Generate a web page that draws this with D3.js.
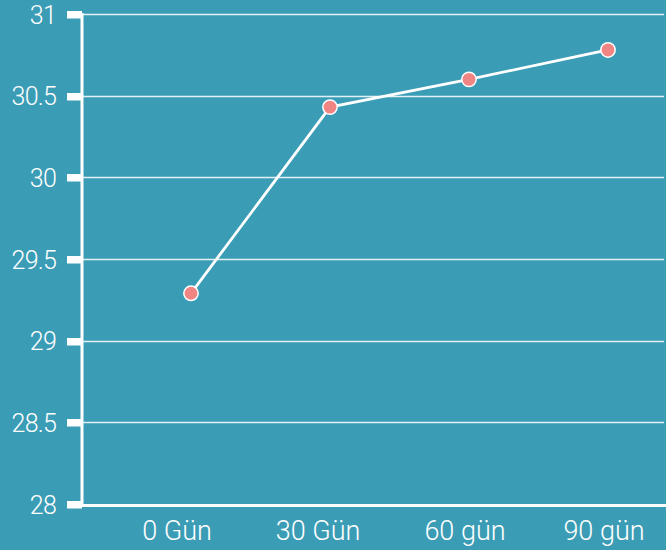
<!DOCTYPE html>
<html><head><meta charset="utf-8">
<script src="https://cdn.jsdelivr.net/npm/d3@7/dist/d3.min.js"></script>
<style>html,body{margin:0;padding:0;background:#3b9cb6;}svg{display:block;}</style>
</head><body>
<script>
const categories = ["0 Gün", "30 Gün", "60 gün", "90 gün"];
const values = [29.29, 30.43, 30.60, 30.78];
const yTicks = [28, 28.5, 29, 29.5, 30, 30.5, 31];
const yTickLabels = ["28", "28.5", "29", "29.5", "30", "30.5", "31"];

(function () {
const W = 666, H = 550;
const svg = d3.select("body").append("svg").attr("width", W).attr("height", H);
svg.append("rect").attr("width", W).attr("height", H).attr("fill", "#3b9cb6");

const pLeft = 82, pRight = 664, pTop = 14, pBottom = 504;
const y = d3.scaleLinear().domain([28, 31]).range([pBottom, pTop]);
const x = d3.scalePoint().domain(categories).range([191, 608]);

// gridlines
svg.append("g").selectAll("line").data(yTicks.slice(1)).join("line")
  .attr("x1", pLeft).attr("x2", pRight)
  .attr("y1", d => Math.round(y(d)) + 0.5).attr("y2", d => Math.round(y(d)) + 0.5)
  .attr("stroke", "#ffffff").attr("stroke-opacity", 0.85).attr("stroke-width", 1.3);

// y axis ticks (thick)
svg.append("g").selectAll("rect").data(yTicks).join("rect")
  .attr("x", 67).attr("width", pLeft - 67)
  .attr("y", d => Math.round(y(d)) - 3).attr("height", 7.5)
  .attr("fill", "#fff");

// y labels
svg.append("g").selectAll("text").data(yTicks).join("text")
  .attr("x", 56).attr("y", d => y(d) + 1)
  .attr("text-anchor", "end").attr("dominant-baseline", "central")
  .attr("fill", "#fff").attr("font-family", "Roboto, sans-serif").attr("font-weight", 300)
  .attr("font-size", 25).attr("letter-spacing", -0.8)
  .text((d, i) => yTickLabels[i]);

// axis lines
svg.append("line").attr("x1", pLeft).attr("x2", pLeft).attr("y1", pTop - 1).attr("y2", pBottom + 3)
  .attr("stroke", "#fff").attr("stroke-width", 3);
svg.append("line").attr("x1", pLeft).attr("x2", pRight + 2).attr("y1", pBottom + 1.5).attr("y2", pBottom + 1.5)
  .attr("stroke", "#fff").attr("stroke-width", 3);

// x labels
svg.append("g").selectAll("text").data(categories).join("text")
  .attr("x", (d, i) => x(d) - [14, 12, 4, 4][i]).attr("y", 531)
  .attr("text-anchor", "middle").attr("dominant-baseline", "central")
  .attr("fill", "#fff").attr("font-family", "Roboto, sans-serif").attr("font-weight", 300)
  .attr("font-size", 27)
  .text(d => d);

// line
const line = d3.line().x((d, i) => x(categories[i])).y(d => y(d));
svg.append("path").datum(values).attr("d", line)
  .attr("fill", "none").attr("stroke", "#fff").attr("stroke-width", 2.8);

// points
svg.append("g").selectAll("circle").data(values).join("circle")
  .attr("cx", (d, i) => x(categories[i])).attr("cy", d => y(d)).attr("r", 7.2)
  .attr("fill", "#f08584").attr("stroke", "#fff").attr("stroke-width", 1.5);
})();
</script>
</body></html>
